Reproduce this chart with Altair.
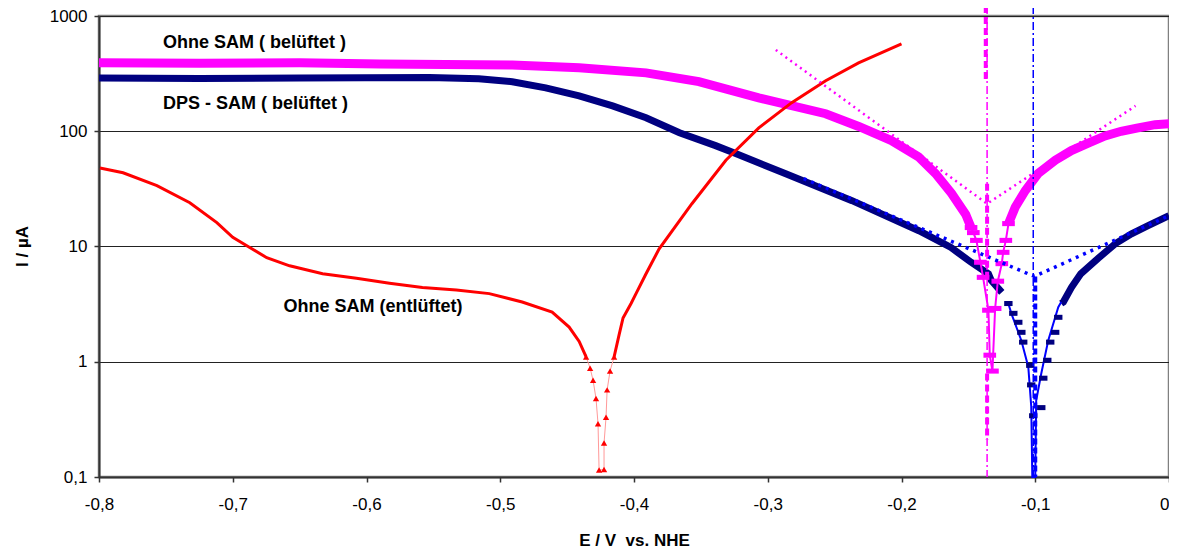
import altair as alt
import pandas as pd

FONT = "Liberation Sans"

# ---------------- data ----------------
# Ohne SAM (belüftet) – magenta
MAG_L_E = [-0.800, -0.725, -0.650, -0.590, -0.491, -0.441, -0.391, -0.3515, -0.3067,
           -0.2567, -0.232, -0.2075, -0.1873, -0.1746, -0.1627, -0.152, -0.148]
MAG_L_I = [392, 390, 392, 384, 376, 355, 321, 270, 195, 142, 110, 83, 60, 43, 29, 19, 14.6]
MAG_R_E = [-0.120, -0.115, -0.1075, -0.0978, -0.085, -0.073, -0.0604, -0.0478, -0.0358,
           -0.0231, -0.0104, 0.0]
MAG_R_I = [15.8, 21.9, 30.5, 43, 56, 68, 79, 91, 100, 107, 114, 116]
MAG_TIP_E = [-0.148, -0.1463, -0.144, -0.141, -0.139, -0.135, -0.134, -0.132,
             -0.130, -0.128, -0.125, -0.124, -0.122, -0.120]
MAG_TIP_I = [14.6, 13.2, 11.3, 7.3, 5.4, 2.8, 1.14, 0.83, 2.9, 5.0, 7.1, 8.9, 11.3, 15.8]

# DPS - SAM (belüftet) – navy
NAV_L_E = [-0.800, -0.725, -0.650, -0.553, -0.516, -0.491, -0.466, -0.441, -0.416, -0.391,
           -0.366, -0.339, -0.324, -0.287, -0.237, -0.187, -0.163, -0.148, -0.135, -0.133, -0.125]
NAV_L_I = [290, 287, 290, 292, 285, 269, 238, 203, 166, 131, 97, 75, 64, 43, 25, 13.7,
           9.8, 7.3, 5.8, 5.1, 4.0]
NAV_R_E = [-0.0806, -0.079, -0.073, -0.066, -0.053, -0.040, -0.028, -0.016, 0.0]
NAV_R_I = [3.2, 3.3, 4.4, 5.8, 7.9, 10.6, 12.9, 15.1, 18.5]
NAV_TIP_E = [-0.1201, -0.1164, -0.1127, -0.1104, -0.1090, -0.1037, -0.1030, -0.1015,
             -0.0955, -0.0940, -0.0910, -0.0888, -0.0851, -0.0828]
NAV_TIP_I = [3.2, 2.63, 2.2, 1.8, 1.48, 0.93, 0.63, 0.34, 0.40, 0.72, 1.03, 1.48, 1.8, 2.43]
BLUE_V_E = [-0.1201, -0.1179, -0.1104, -0.1052, -0.1030, -0.1022, -0.1000, -0.0993,
            -0.0955, -0.0903, -0.0828, -0.0806]
BLUE_V_I = [3.2, 2.63, 1.53, 0.90, 0.41, 0.1, 0.1, 0.46, 0.79, 1.53, 2.97, 3.3]

# Ohne SAM (entlüftet) – red
RED_L_E = [-0.7993, -0.782, -0.7567, -0.7321, -0.7119, -0.700, -0.6873, -0.6746, -0.6575,
           -0.6328, -0.6075, -0.5828, -0.5582, -0.5328, -0.5082, -0.4836, -0.4612, -0.4485,
           -0.441, -0.4358]
RED_L_I = [48, 43.6, 33.7, 24, 16.1, 12, 9.8, 8.0, 6.8, 5.8, 5.3, 4.8, 4.4, 4.2, 3.9, 3.3,
           2.7, 2.0, 1.5, 1.1]
RED_TIP_E = [-0.4358, -0.4328, -0.4306, -0.4284, -0.4269, -0.4261, -0.4224, -0.4224,
             -0.4209, -0.4201, -0.4179, -0.4149]
RED_TIP_I = [1.1, 0.88, 0.69, 0.48, 0.29, 0.115, 0.116, 0.197, 0.33, 0.57, 0.83, 1.1]
RED_R_E = [-0.4149, -0.4112, -0.4082, -0.4022, -0.3985, -0.3910, -0.3813, -0.3567,
           -0.3313, -0.3067, -0.2821, -0.2567, -0.2321, -0.2000]
RED_R_I = [1.1, 1.7, 2.4, 3.2, 3.9, 5.8, 9.5, 23.5, 56, 107, 177, 274, 392, 573]

# Tafel fits
TAF_MAG_E = [-0.294, -0.136, -0.025]
TAF_MAG_I = [508, 23.5, 166]
TAF_BLU_E = [-0.2731, -0.1007, 0.0]
TAF_BLU_I = [38.8, 5.5, 18.5]

# vertical corrosion-potential markers
VM_THIN_E = [-0.136, -0.136]
VM_THIN_I = [1220, 0.1]
VM_THICK_E = [-0.137, -0.137, -0.136, -0.136, -0.136, -0.136]
VM_THICK_I = [1220, 263, 35, 5.4, 0.79, 0.21]
VM_THICK_SEG = [0, 0, 1, 1, 2, 2]
VB_THIN_E = [-0.1015, -0.1015]
VB_THIN_I = [1220, 0.1]
VB_THICK_E = [-0.1000, -0.1000]
VB_THICK_I = [5.5, 0.1]

LABELS = ["Ohne SAM ( belüftet )", "DPS - SAM ( belüftet )", "Ohne SAM (entlüftet)"]
LABEL_E = [-0.7522, -0.7522, -0.662]
LABEL_I = [583, 173, 2.97]

X_TICKS = [-0.8, -0.7, -0.6, -0.5, -0.4, -0.3, -0.2, -0.1, 0.0]
Y_TICKS = [0.1, 1, 10, 100, 1000]


def df(e, i, seg=None):
    d = pd.DataFrame({"E": e, "I": i})
    d["seg"] = seg if seg is not None else 0
    d["order"] = range(len(d))
    return d


def two(e1, i1, e2, i2):
    a = df(e1, i1, 0)
    b = df(e2, i2, 1)
    return pd.concat([a, b], ignore_index=True)


xs = alt.Scale(domain=[-0.8, 0], nice=False, zero=False)
ys = alt.Scale(type="log", domain=[0.1, 1000], nice=False)

X = alt.X("E:Q", scale=xs, axis=alt.Axis(
    values=X_TICKS, labelFlush=False, labelOverlap=False,
    labelAlign={"condition": {"test": "datum.value == 0", "value": "right"}, "value": "center"},
    labelExpr="datum.value < 0 ? '-' + replace(format(-datum.value, '.1f'), '.', ',') : '0'",
    title="E / V\u00a0 vs. NHE", grid=False, titleY=63, titleBaseline="middle"))
Y = alt.Y("I:Q", scale=ys, axis=alt.Axis(
    values=Y_TICKS, labelOverlap=False,
    labelExpr="replace(toString(datum.value), '.', ',')",
    title="I / µA", grid=True, titleX=-77, titleY=230, titleAngle=270,
    titleAlign="center", titleBaseline="middle"))


def line(d, color, width, dash=None, opacity=1):
    kw = dict(color=color, strokeWidth=width, clip=False, opacity=opacity)
    if dash:
        kw["strokeDash"] = dash
    return alt.Chart(d).mark_line(**kw).encode(x=X, y=Y, detail="seg:N", order="order:Q")


def points(d, color, shape, size):
    return alt.Chart(d).mark_point(shape=shape, filled=True, color=color, size=size,
                                   opacity=1, clip=False).encode(x=X, y=Y)


RECT_W = "M-1,-0.4L1,-0.4L1,0.4L-1,0.4Z"
RECT_N = "M-1,-0.6L1,-0.6L1,0.6L-1,0.6Z"

layers = [
    # navy
    line(two(NAV_L_E, NAV_L_I, NAV_R_E, NAV_R_I), "#000080", 7),
    line(df(BLUE_V_E, BLUE_V_I), "#0000FF", 2),
    points(df(NAV_TIP_E, NAV_TIP_I), "#000080", RECT_N, 70),
    # magenta
    line(two(MAG_L_E, MAG_L_I, MAG_R_E, MAG_R_I), "#FF00FF", 9),
    line(df(MAG_TIP_E, MAG_TIP_I), "#FF00FF", 2),
    points(df(MAG_TIP_E, MAG_TIP_I), "#FF00FF", RECT_W, 160),
    # red
    line(two(RED_L_E, RED_L_I, RED_R_E, RED_R_I), "#FF0000", 3),
    line(df(RED_TIP_E, RED_TIP_I), "#FF9999", 1),
    points(df(RED_TIP_E, RED_TIP_I), "#FF0000", "triangle-up", 40),
    # Tafel fits
    line(df(TAF_MAG_E, TAF_MAG_I), "#FF00FF", 2.5, [2, 4]),
    line(df(TAF_BLU_E, TAF_BLU_I), "#0000FF", 3.5, [3, 5]),
    # vertical markers
    line(df(VM_THIN_E, VM_THIN_I), "#FF00FF", 1.5, [8, 3, 2, 3]),
    line(df(VM_THICK_E, VM_THICK_I, VM_THICK_SEG), "#FF00FF", 4, [7, 4]),
    line(df(VB_THIN_E, VB_THIN_I), "#0000FF", 1.5, [8, 3, 2, 3]),
    line(df(VB_THICK_E, VB_THICK_I), "#0000FF", 4, [6, 3]),
    # labels
    alt.Chart(pd.DataFrame({"E": LABEL_E, "I": LABEL_I, "t": LABELS})).mark_text(
        align="left", baseline="middle", font=FONT, fontSize=18, fontWeight="bold",
        color="black").encode(x=X, y=Y, text="t:N"),
]

chart = alt.layer(*layers).properties(
    width=1070, height=461,
    autosize=alt.AutoSizeParams(type="none"),
    padding={"left": 91, "top": 8, "right": 0, "bottom": 72},
).configure_view(
    stroke="#808080", strokeWidth=2.5
).configure_axis(
    labelFont=FONT, labelFontSize=17, labelColor="black",
    titleFont=FONT, titleFontSize=17, titleFontWeight="bold", titleColor="black",
    domainColor="#333333", domainWidth=2, tickColor="#333333", tickSize=5, tickWidth=1.5,
    gridColor="#222222", gridWidth=1, gridOpacity=1,
).configure_axisX(labelPadding=14).configure_axisY(labelPadding=7)

chart.save("out.html", embed_options={"renderer": "svg", "actions": False})
